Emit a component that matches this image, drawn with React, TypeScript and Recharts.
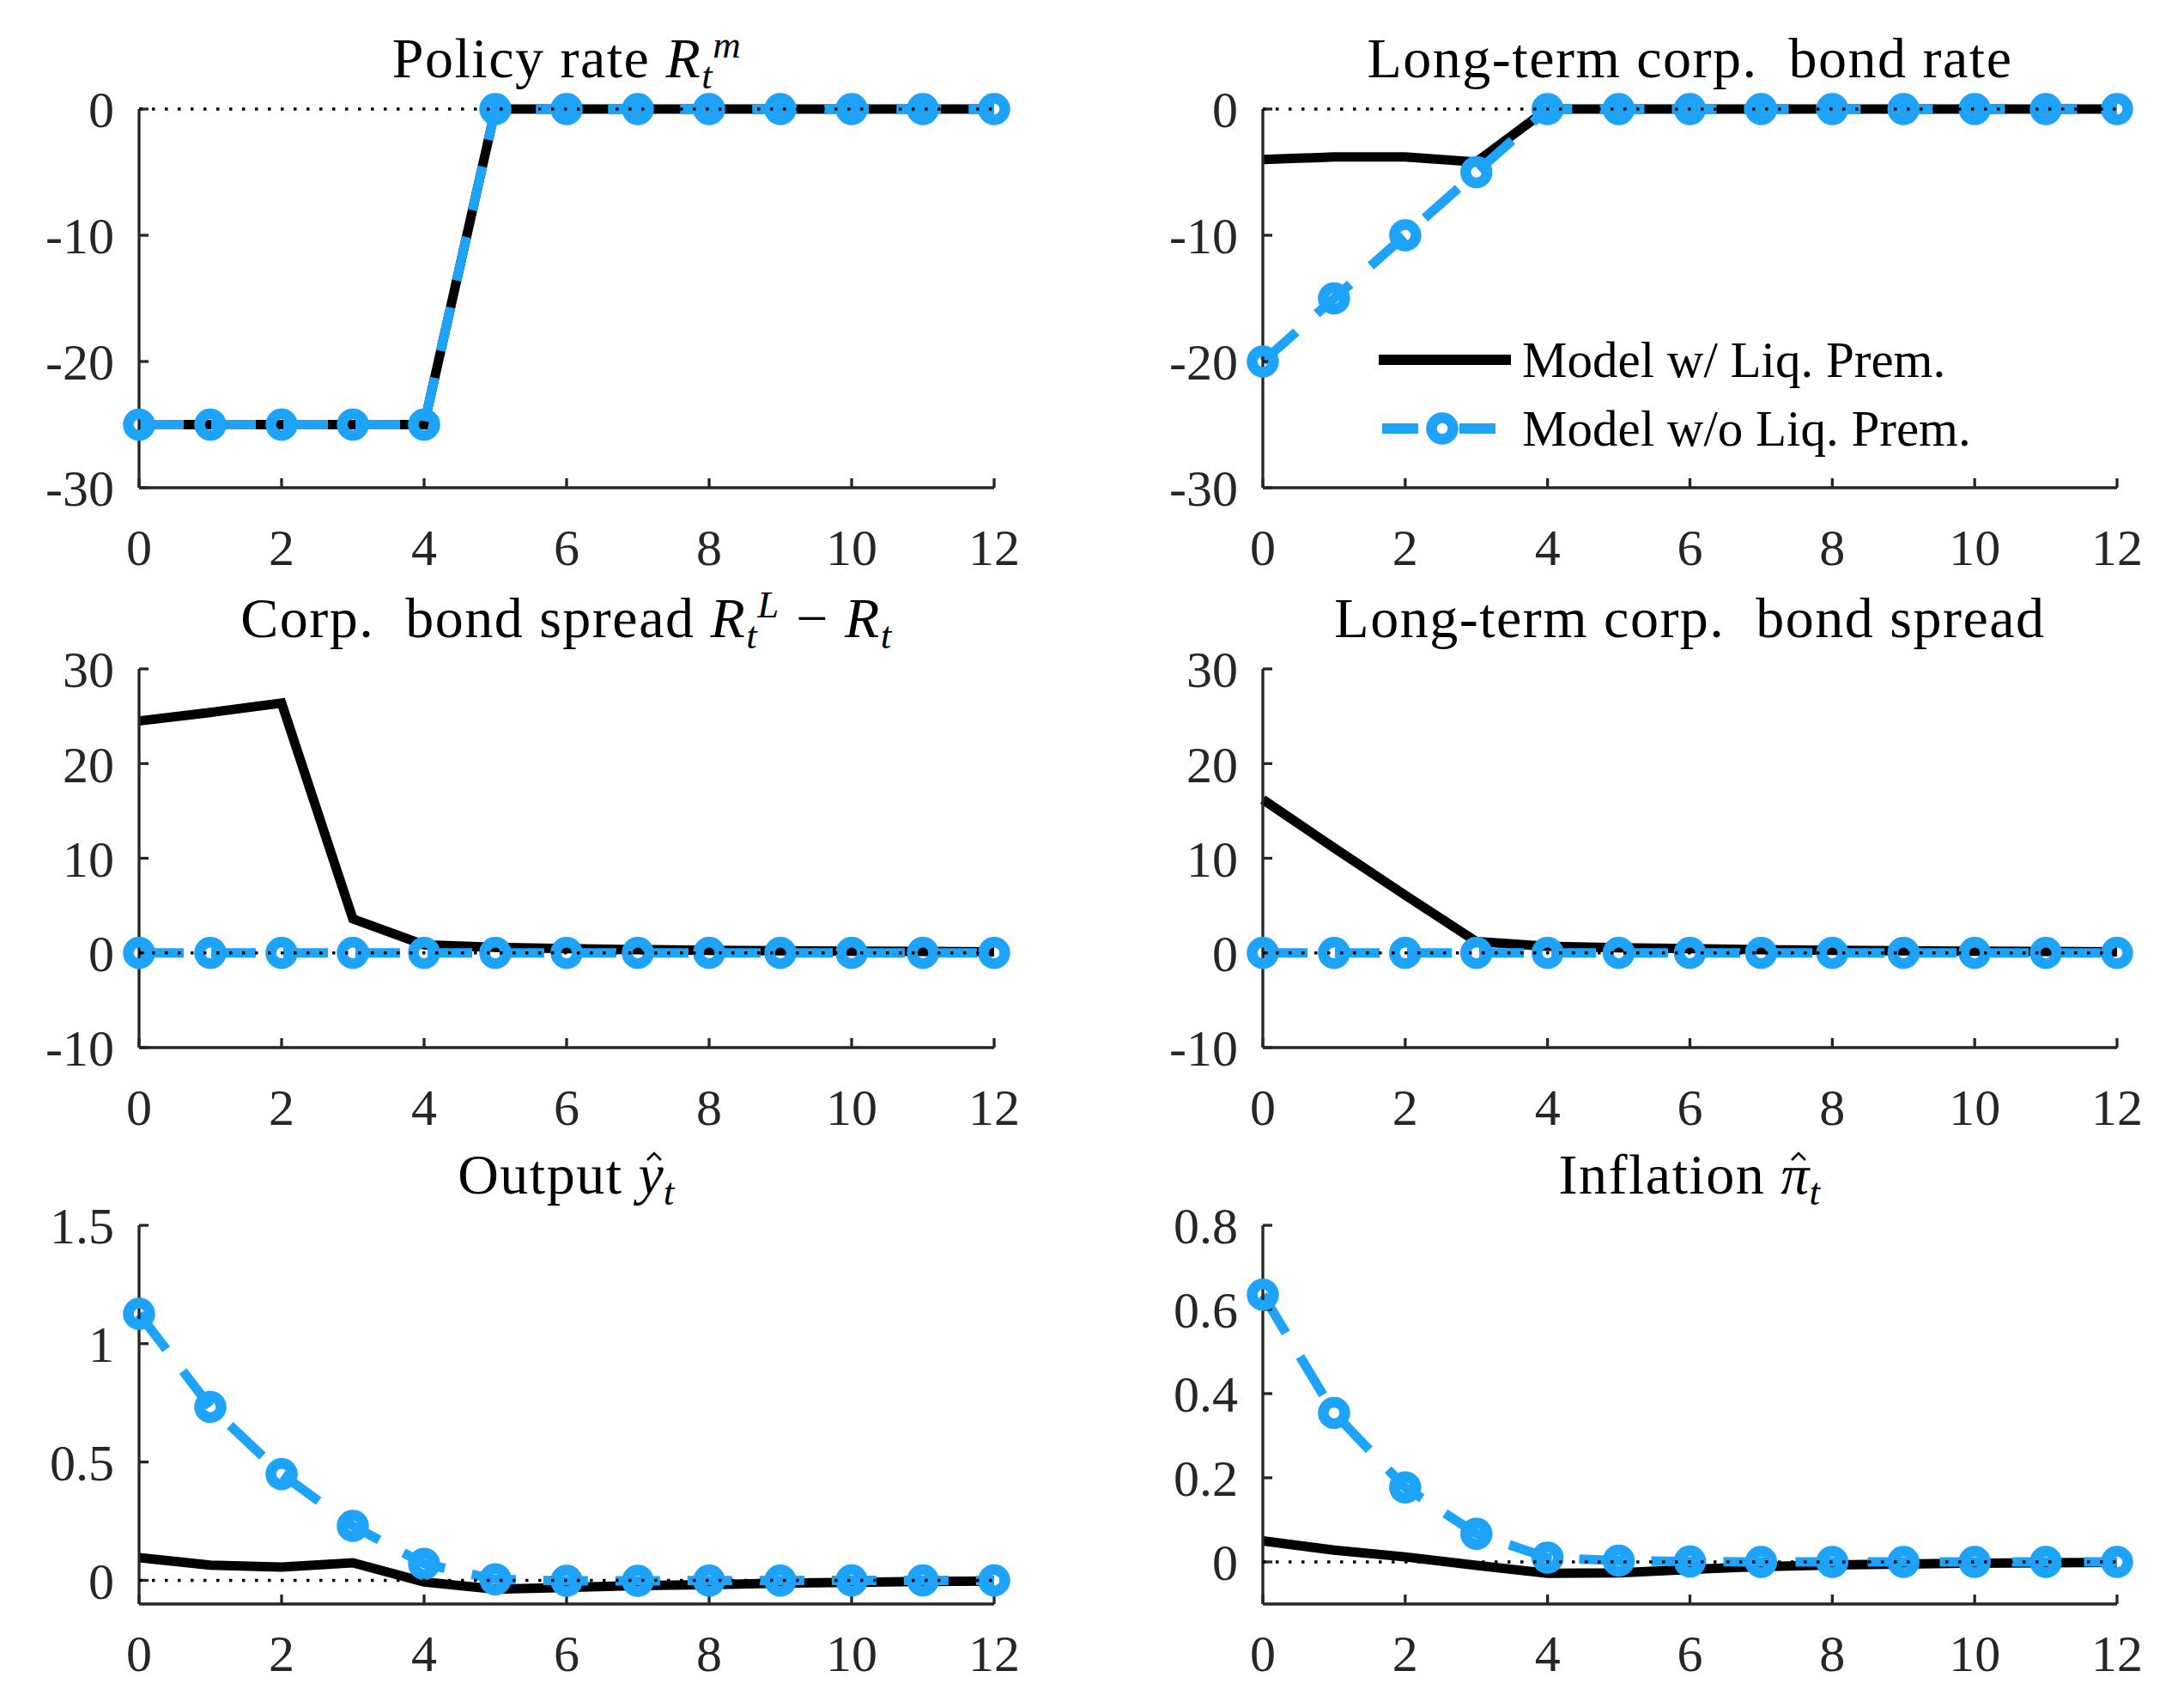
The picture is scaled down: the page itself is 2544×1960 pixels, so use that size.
import React from 'react';
import { LineChart, Line, XAxis, YAxis, ReferenceLine, Legend } from 'recharts';

// ---------- data ----------
const horizon = [0, 1, 2, 3, 4, 5, 6, 7, 8, 9, 10, 11, 12];
const xTicks = [0, 2, 4, 6, 8, 10, 12];

const policyWith = [-25, -25, -25, -25, -25, 0, 0, 0, 0, 0, 0, 0, 0];
const policyWithout = [-25, -25, -25, -25, -25, 0, 0, 0, 0, 0, 0, 0, 0];

const ltRateWith = [-4.0, -3.8, -3.8, -4.2, 0, 0, 0, 0, 0, 0, 0, 0, 0];
const ltRateWithout = [-20, -15, -10, -5, 0, 0, 0, 0, 0, 0, 0, 0, 0];

const spreadWith = [24.5, 25.4, 26.4, 3.6, 0.85, 0.6, 0.45, 0.35, 0.28, 0.22, 0.18, 0.15, 0.12];
const spreadWithout = [0, 0, 0, 0, 0, 0, 0, 0, 0, 0, 0, 0, 0];

const ltSpreadWith = [16.2, 11.1, 6.1, 1.2, 0.7, 0.55, 0.45, 0.35, 0.28, 0.22, 0.18, 0.15, 0.12];
const ltSpreadWithout = [0, 0, 0, 0, 0, 0, 0, 0, 0, 0, 0, 0, 0];

const outputWith = [0.096, 0.064, 0.056, 0.074, -0.007, -0.037, -0.03, -0.022, -0.018, -0.012, -0.008, -0.005, -0.003];
const outputWithout = [1.126, 0.733, 0.449, 0.23, 0.07, 0.004, -0.002, -0.002, -0.001, -0.001, 0, 0, 0];

const inflWith = [0.05, 0.028, 0.012, -0.008, -0.027, -0.026, -0.018, -0.011, -0.007, -0.005, -0.003, -0.002, -0.001];
const inflWithout = [0.635, 0.354, 0.177, 0.067, 0.01, 0.003, 0.001, 0, 0, 0, 0, 0, 0];

const ticksRate = [-30, -20, -10, 0];
const ticksSpread = [-10, 0, 10, 20, 30];
const ticksOutput = [0, 0.5, 1, 1.5];
const ticksInfl = [0, 0.2, 0.4, 0.6, 0.8];

const seriesNames = ['Model w/ Liq. Prem.', 'Model w/o Liq. Prem.'];

// ---------- styles ----------
const FONT = '"Liberation Serif", "Times New Roman", serif';
const BLUE = '#1ea3fa';
const AXIS = '#262626';
const TICK_FS = 60;
const TITLE_FS = 66;

const COLS = [
  { chartLeft: 0, plotLeft: 162, plotWidth: 996 },
  { chartLeft: 1272, plotLeft: 1471, plotWidth: 995 },
];
const ROWS = [
  { chartTop: 0, chartHeight: 700, plotTop: 127, plotHeight: 441, xMargin: 58 },
  { chartTop: 650, chartHeight: 700, plotTop: 779, plotHeight: 441, xMargin: 58 },
  { chartTop: 1300, chartHeight: 660, plotTop: 1427, plotHeight: 441, xMargin: 46 },
];

const Y_W = 140;
const X_H = 80;

const MARKER = { r: 12.5, sw: 12.5 };

function LegendContent(props: any) {
  const payload = props.payload || [];
  const names = payload.length >= 2 ? payload.map((p: any) => p.value) : seriesNames;
  const textStyle: React.CSSProperties = {
    position: 'absolute',
    left: 167,
    top: -4,
    fontFamily: FONT,
    fontSize: 59,
    lineHeight: '80px',
    whiteSpace: 'nowrap',
    color: '#000',
  };
  return (
    <div style={{ position: 'relative', width: 720, height: 160 }}>
      <div style={{ position: 'absolute', left: 0, top: 0, width: 720, height: 80 }}>
        <svg width={167} height={80} style={{ position: 'absolute', left: 0, top: 0 }}>
          <line x1={0} x2={154} y1={36} y2={36} stroke="#000" strokeWidth={12} />
        </svg>
        <span style={textStyle}>{names[0]}</span>
      </div>
      <div style={{ position: 'absolute', left: 0, top: 80, width: 720, height: 80 }}>
        <svg width={167} height={80} style={{ position: 'absolute', left: 0, top: 0 }}>
          <line x1={4} x2={46} y1={36} y2={36} stroke={BLUE} strokeWidth={12} />
          <line x1={94} x2={136} y1={36} y2={36} stroke={BLUE} strokeWidth={12} />
          <circle cx={74} cy={36} r={MARKER.r} fill="none" stroke={BLUE} strokeWidth={MARKER.sw} />
        </svg>
        <span style={textStyle}>{names[1]}</span>
      </div>
    </div>
  );
}

type PanelProps = {
  col: number;
  row: number;
  withLiq: number[];
  withoutLiq: number[];
  yDomain: [number, number];
  yTicks: number[];
  legend?: boolean;
};

function Panel({ col, row, withLiq, withoutLiq, yDomain, yTicks, legend }: PanelProps) {
  const c = COLS[col];
  const r = ROWS[row];
  const data = horizon.map((t, i) => ({ t, w: withLiq[i], wo: withoutLiq[i] }));
  const chartWidth = 1272;
  const margin = {
    top: r.plotTop - r.chartTop,
    left: c.plotLeft - c.chartLeft - Y_W,
    right: chartWidth - (c.plotLeft - c.chartLeft) - c.plotWidth,
    bottom: r.chartTop + r.chartHeight - (r.plotTop + r.plotHeight) - X_H,
  };
  const tickStyle = { fontSize: TICK_FS, fill: AXIS, fontFamily: FONT };
  return (
    <div style={{ position: 'absolute', left: c.chartLeft, top: r.chartTop, width: chartWidth, height: r.chartHeight }}>
      <LineChart width={chartWidth} height={r.chartHeight} data={data} margin={margin}>
        <XAxis
          dataKey="t"
          type="number"
          domain={[0, 12]}
          ticks={xTicks}
          interval={0}
          height={X_H}
          tickSize={-11}
          tickMargin={r.xMargin}
          axisLine={{ stroke: AXIS, strokeWidth: 3.3 }}
          tickLine={{ stroke: AXIS, strokeWidth: 3.3 }}
          tick={tickStyle}
        />
        <YAxis
          type="number"
          domain={yDomain}
          ticks={yTicks}
          interval={0}
          width={Y_W}
          tickSize={-11}
          tickMargin={40}
          axisLine={{ stroke: AXIS, strokeWidth: 3.3 }}
          tickLine={{ stroke: AXIS, strokeWidth: 3.3 }}
          tick={tickStyle}
        />
        <Line
          type="linear"
          dataKey="w"
          name={seriesNames[0]}
          stroke="#000"
          strokeWidth={11}
          dot={false}
          activeDot={false}
          isAnimationActive={false}
        />
        <Line
          type="linear"
          dataKey="wo"
          name={seriesNames[1]}
          stroke={BLUE}
          strokeWidth={11}
          strokeDasharray="52 32"
          dot={{ r: MARKER.r, stroke: BLUE, strokeWidth: MARKER.sw, fill: 'none', strokeDasharray: 'none' }}
          activeDot={false}
          isAnimationActive={false}
        />
        <ReferenceLine
          y={0}
          stroke="#000"
          strokeWidth={3.5}
          strokeDasharray="3.5 11.5"
          {...({ zIndex: 1000 } as any)}
        />
        {legend ? (
          <Legend
            layout="horizontal"
            verticalAlign="middle"
            align="center"
            content={LegendContent}
            wrapperStyle={{ position: 'absolute', left: 1606 - 1272, top: 419 - 36 - r.chartTop, width: 720, height: 160 }}
          />
        ) : null}
      </LineChart>
    </div>
  );
}

// super/subscript; the superscript sits to the right of the subscript (as TeX does after an italic R)
function Script({ sup, sub, width }: { sup?: string; sub?: string; width: number }) {
  const fs = Math.round(TITLE_FS * 0.68);
  const L = 30;
  const baseOff = L / 2 + 0.3375 * fs;
  const base: React.CSSProperties = {
    position: 'absolute',
    fontSize: fs,
    lineHeight: `${L}px`,
    height: L,
    fontStyle: 'italic',
    letterSpacing: 0,
    whiteSpace: 'nowrap',
  };
  return (
    <span style={{ display: 'inline-block', position: 'relative', width, height: 0 }}>
      {sup ? <span style={{ ...base, left: sub ? 13 : 2, top: -23 - baseOff }}>{sup}</span> : null}
      {sub ? <span style={{ ...base, left: 0, top: 13 - baseOff }}>{sub}</span> : null}
    </span>
  );
}

// hat accent drawn as a tiny svg above a lower-case letter
function Hat({ children }: { children: React.ReactNode }) {
  const baselineInBox = 0.8375 * TITLE_FS;
  return (
    <span style={{ display: 'inline-block', position: 'relative', fontStyle: 'italic', letterSpacing: 0 }}>
      {children}
      <svg
        width={22}
        height={14}
        style={{ position: 'absolute', left: '50%', marginLeft: -7, top: baselineInBox - 50 }}
      >
        <polyline points="3,11 11,3 19,11" fill="none" stroke="#000" strokeWidth={2.6} />
      </svg>
    </span>
  );
}

function Title({ col, row, children }: { col: number; row: number; children: React.ReactNode }) {
  const c = COLS[col];
  const r = ROWS[row];
  const baseline = r.plotTop - 37;
  return (
    <div
      style={{
        position: 'absolute',
        left: c.plotLeft - 100,
        width: c.plotWidth + 200,
        top: baseline - 0.8375 * TITLE_FS,
        height: TITLE_FS,
        textAlign: 'center',
        fontFamily: FONT,
        fontSize: TITLE_FS,
        lineHeight: `${TITLE_FS}px`,
        letterSpacing: 1.5,
        whiteSpace: 'pre',
        color: '#000',
      }}
    >
      {children}
    </div>
  );
}

export default function App() {
  return (
    <div style={{ position: 'absolute', left: 0, top: 0, width: 2544, height: 1960, background: '#fff', overflow: 'hidden' }}>
      <Panel col={0} row={0} withLiq={policyWith} withoutLiq={policyWithout} yDomain={[-30, 0]} yTicks={ticksRate} />
      <Panel col={1} row={0} withLiq={ltRateWith} withoutLiq={ltRateWithout} yDomain={[-30, 0]} yTicks={ticksRate} legend />
      <Panel col={0} row={1} withLiq={spreadWith} withoutLiq={spreadWithout} yDomain={[-10, 30]} yTicks={ticksSpread} />
      <Panel col={1} row={1} withLiq={ltSpreadWith} withoutLiq={ltSpreadWithout} yDomain={[-10, 30]} yTicks={ticksSpread} />
      <Panel col={0} row={2} withLiq={outputWith} withoutLiq={outputWithout} yDomain={[-0.1, 1.5]} yTicks={ticksOutput} />
      <Panel col={1} row={2} withLiq={inflWith} withoutLiq={inflWithout} yDomain={[-0.1, 0.8]} yTicks={ticksInfl} />

      <Title col={0} row={0}>
        {'Policy rate '}
        <i>R</i>
        <Script sup="m" sub="t" width={46} />
      </Title>
      <Title col={1} row={0}>{'Long-term corp.  bond rate'}</Title>
      <Title col={0} row={1}>
        {'Corp.  bond spread '}
        <i>R</i>
        <Script sup="L" sub="t" width={40} />
        {' \u2212 '}
        <i>R</i>
        <Script sub="t" width={14} />
      </Title>
      <Title col={1} row={1}>{'Long-term corp.  bond spread'}</Title>
      <Title col={0} row={2}>
        {'Output '}
        <Hat>y</Hat>
        <Script sub="t" width={14} />
      </Title>
      <Title col={1} row={2}>
        {'Inflation '}
        <Hat>{'\u03C0'}</Hat>
        <Script sub="t" width={14} />
      </Title>
    </div>
  );
}
